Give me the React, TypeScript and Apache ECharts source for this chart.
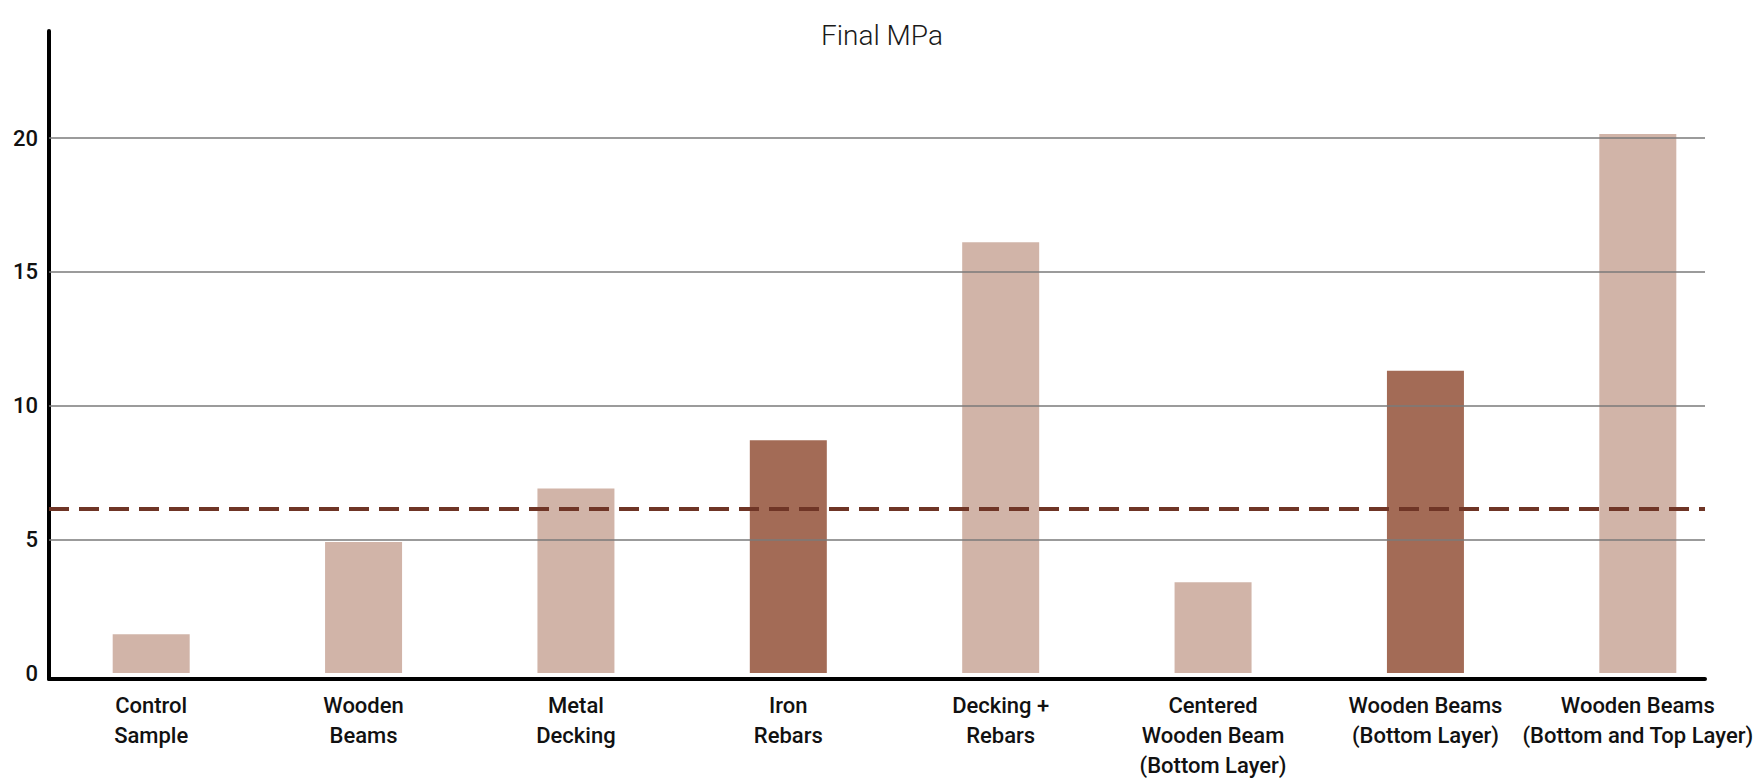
import React, { useEffect, useRef } from "react";
import * as echarts from "echarts";

const categories = [
  "Control\nSample",
  "Wooden\nBeams",
  "Metal\nDecking",
  "Iron\nRebars",
  "Decking +\nRebars",
  "Centered\nWooden Beam\n(Bottom Layer)",
  "Wooden Beams\n(Bottom Layer)",
  "Wooden Beams\n(Bottom and Top Layer)",
];
const finalMPa = [1.45, 4.9, 6.9, 8.7, 16.1, 3.4, 11.3, 20.15];
const highlighted = [false, false, false, true, false, false, true, false];
const referenceLine = 6.15;
const yTicks = [0, 5, 10, 15, 20];
const gridValues = [5, 10, 15, 20];

const LIGHT = "#D1B4A8";
const DARK = "#A36B56";
const DASH = "#6F3526";
const FONT = "Roboto, 'Noto Sans', sans-serif";

export default function App() {
  const ref = useRef<HTMLDivElement>(null);

  useEffect(() => {
    if (!ref.current) return;
    const chart = echarts.init(ref.current, undefined, { renderer: "svg" });
    const yMin = -0.22;
    const yMax = 24;
    chart.setOption({
      animation: false,
      backgroundColor: "#ffffff",
      title: {
        text: "Final MPa",
        left: 877,
        textAlign: "center",
        top: 16,
        textStyle: { fontFamily: FONT, fontWeight: 300, fontSize: 28, color: "#1a1a1a" },
      },
      grid: [
        { left: 49, right: 54, top: 31, bottom: 105 },
        { left: 45, right: 15, top: 31, bottom: 105 },
      ],
      xAxis: [
        {
          gridIndex: 0,
          type: "value",
          min: 0,
          max: 1,
          axisLine: { show: true, onZero: false, lineStyle: { color: "#000", width: 4 } },
          axisTick: { show: false },
          axisLabel: { show: false },
          splitLine: { show: false },
        },
        {
          gridIndex: 1,
          type: "category",
          data: categories,
          axisLine: { show: false },
          axisTick: { show: false },
          axisLabel: {
            interval: 0,
            margin: 11,
            fontFamily: FONT,
            fontSize: 22,
            fontWeight: 500,
            lineHeight: 30,
            color: "#111",
          },
        },
      ],
      yAxis: [
        {
          gridIndex: 0,
          type: "value",
          min: yMin,
          max: yMax,
          axisLine: { show: true, lineStyle: { color: "#000", width: 4 } },
          axisTick: { show: false },
          splitLine: { show: false },
          axisLabel: {
            customValues: yTicks,
            margin: 11,
            fontFamily: FONT,
            fontSize: 22,
            fontWeight: 500,
            color: "#111",
          },
        },
        {
          gridIndex: 1,
          type: "value",
          min: yMin,
          max: yMax,
          show: false,
          splitLine: { show: false },
        },
      ],
      series: [
        {
          type: "bar",
          xAxisIndex: 1,
          yAxisIndex: 1,
          barWidth: 77,
          data: finalMPa.map((v, i) => ({
            value: v,
            itemStyle: { color: highlighted[i] ? DARK : LIGHT },
          })),
        },
        {
          type: "line",
          xAxisIndex: 0,
          yAxisIndex: 0,
          data: [],
          silent: true,
          markLine: {
            silent: true,
            symbol: ["none", "none"],
            label: { show: false },
            data: [
              ...gridValues.map((v) => ({
                yAxis: v,
                lineStyle: { color: "#7a7a7a", width: 1.5, type: "solid" },
              })),
              {
                yAxis: referenceLine,
                lineStyle: { color: DASH, width: 4, type: [20, 10] },
              },
            ],
          },
        },
      ],
    });
    return () => chart.dispose();
  }, []);

  return (
    <div
      ref={ref}
      style={{ position: "fixed", left: 0, top: 0, width: 1759, height: 784, background: "#fff" }}
    />
  );
}
